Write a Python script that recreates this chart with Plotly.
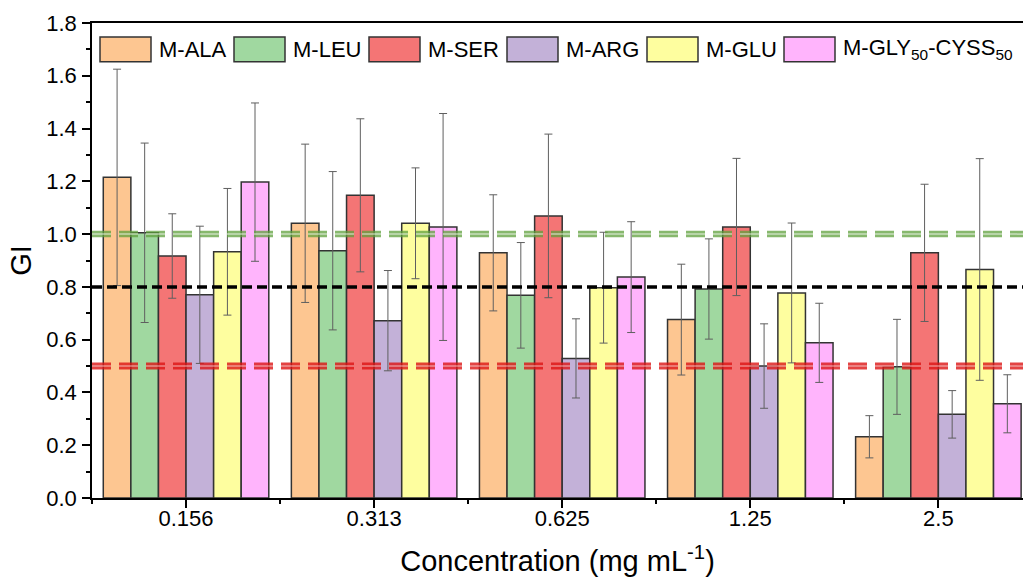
import plotly.graph_objects as go

# ---------------- data ----------------
categories = ["0.156", "0.313", "0.625", "1.25", "2.5"]
series_names = ["M-ALA", "M-LEU", "M-SER", "M-ARG", "M-GLU",
                "M-GLY<sub>50</sub>-CYSS<sub>50</sub>"]

ala = [1.215, 1.041, 0.929, 0.676, 0.232]
ala_err = [0.41, 0.30, 0.22, 0.21, 0.08]
leu = [1.005, 0.937, 0.768, 0.792, 0.497]
leu_err = [0.34, 0.30, 0.20, 0.19, 0.18]
ser = [0.917, 1.147, 1.069, 1.027, 0.929]
ser_err = [0.16, 0.29, 0.31, 0.26, 0.26]
arg = [0.770, 0.672, 0.529, 0.500, 0.317]
arg_err = [0.26, 0.19, 0.15, 0.16, 0.09]
glu = [0.933, 1.041, 0.797, 0.777, 0.866]
glu_err = [0.24, 0.21, 0.21, 0.265, 0.42]
gly = [1.197, 1.027, 0.837, 0.588, 0.357]
gly_err = [0.30, 0.43, 0.21, 0.15, 0.11]

green_level = 1.0
black_level = 0.8
red_level = 0.5

y_ticks = [0.0, 0.2, 0.4, 0.6, 0.8, 1.0, 1.2, 1.4, 1.6, 1.8]

# ---------------- style ----------------
colors = ["#FDC691", "#A0D8A0", "#F47575", "#C3B1D8", "#FEFE9F", "#FFB4FC"]
outline = "#333333"
FONT = "Arial, Liberation Sans, Helvetica, sans-serif"

W, H = 1023, 577
ML, MR, MT, MB = 92, 0, 23, 77
PW, PH = W - ML - MR, H - MT - MB

values = [ala, leu, ser, arg, glu, gly]
errors = [ala_err, leu_err, ser_err, arg_err, glu_err, gly_err]
xpos = list(range(len(categories)))

fig = go.Figure()
for name, vals, errs, col in zip(series_names, values, errors, colors):
    fig.add_trace(go.Bar(
        x=xpos, y=vals, name=name,
        marker=dict(color=col, line=dict(color=outline, width=1.5)),
        error_y=dict(type="data", array=errs, symmetric=True,
                     color="#5f5f5f", thickness=1, width=4),
        showlegend=False,
    ))

shapes = []
# green double dashed line
shapes.append(dict(type="line", xref="paper", yref="y", x0=0, x1=1,
                   y0=green_level, y1=green_level,
                   line=dict(color="rgba(95,160,60,0.75)", width=6.5, dash="19px,8px")))
shapes.append(dict(type="line", xref="paper", yref="y", x0=0, x1=1,
                   y0=green_level, y1=green_level,
                   line=dict(color="rgba(255,255,255,0.55)", width=1.5, dash="19px,8px")))
# red double dashed line
shapes.append(dict(type="line", xref="paper", yref="y", x0=0, x1=1,
                   y0=red_level, y1=red_level,
                   line=dict(color="rgba(220,20,20,0.8)", width=7, dash="19px,8px")))
shapes.append(dict(type="line", xref="paper", yref="y", x0=0, x1=1,
                   y0=red_level, y1=red_level,
                   line=dict(color="rgba(255,255,255,0.45)", width=1.5, dash="19px,8px")))
# black dashed line
shapes.append(dict(type="line", xref="paper", yref="y", x0=0, x1=1,
                   y0=black_level, y1=black_level,
                   line=dict(color="black", width=3.5, dash="10px,5px")))

# manual legend (pixel layout converted to paper coords)
legend_box_left = [100, 234, 369, 507, 647, 784]
box_w, box_top, box_bot = 51, 37, 62
annotations = []
def px2x(p):
    return (p - ML) / PW
def py2y(p):
    return (MT + PH - p) / PH
for left, name, col in zip(legend_box_left, series_names, colors):
    shapes.append(dict(type="rect", xref="paper", yref="paper",
                       x0=px2x(left), x1=px2x(left + box_w),
                       y0=py2y(box_bot), y1=py2y(box_top),
                       fillcolor=col, line=dict(color=outline, width=1.5)))
    annotations.append(dict(xref="paper", yref="paper",
                            x=px2x(left + box_w + 6), y=py2y((box_top + box_bot) / 2),
                            xanchor="left", yanchor="middle", showarrow=False,
                            text=name, font=dict(family=FONT, size=22, color="black")))

fig.update_layout(
    width=W, height=H,
    margin=dict(l=ML, r=MR, t=MT, b=MB, pad=0),
    paper_bgcolor="white", plot_bgcolor="white",
    barmode="group", bargap=0.12, bargroupgap=0,
    font=dict(family=FONT, size=20, color="black"),
    shapes=shapes, annotations=annotations,
    showlegend=False,
)
fig.update_xaxes(
    range=[-0.5, 4.45],
    tickmode="array", tickvals=xpos, ticktext=categories,
    ticks="outside", ticklen=8, tickwidth=1.5, tickcolor="black",
    minor=dict(tickmode="linear", tick0=0.5, dtick=1, ticks="outside",
               ticklen=4, tickwidth=1.5, tickcolor="black"),
    showline=True, linecolor="black", linewidth=1.5, mirror=True,
    showgrid=False, zeroline=False,
    tickfont=dict(family=FONT, size=22),
    ticklabelstandoff=-8,
    title=dict(text="Concentration (mg mL<sup>-1</sup>)",
               font=dict(family=FONT, size=29), standoff=26),
)
fig.update_yaxes(
    range=[0, 1.8],
    tickmode="array", tickvals=y_ticks,
    ticktext=[f"{v:.1f}" for v in y_ticks],
    ticks="outside", ticklen=8, tickwidth=1.5, tickcolor="black",
    minor=dict(tickmode="linear", tick0=0.1, dtick=0.2, ticks="outside",
               ticklen=4, tickwidth=1.5, tickcolor="black"),
    showline=True, linecolor="black", linewidth=1.5, mirror=False,
    showgrid=False, zeroline=False,
    tickfont=dict(family=FONT, size=22),
    ticklabelstandoff=1,
    title=dict(text="GI", font=dict(family=FONT, size=29), standoff=6),
)

fig.write_html(
    "out.html",
    config={"displayModeBar": False},
    post_script="document.body.style.margin='0';document.body.style.overflow='hidden';",
)
